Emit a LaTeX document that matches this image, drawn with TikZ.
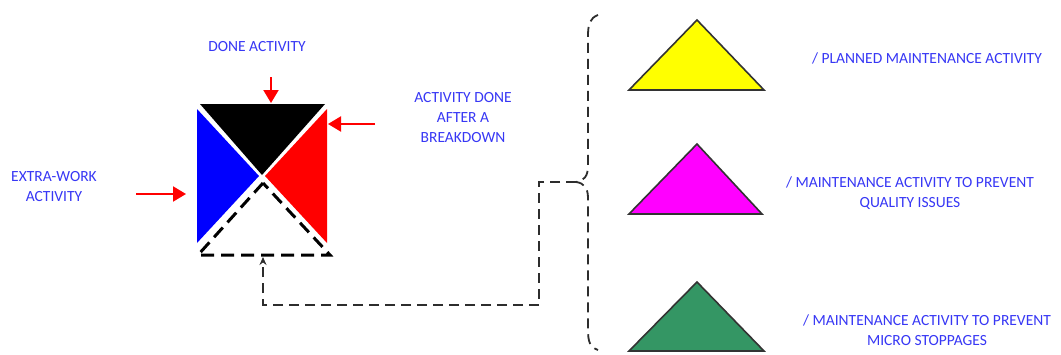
\documentclass[tikz,border=0pt]{standalone}
\usepackage{fontspec}
\setmainfont{Carlito}
\usetikzlibrary{arrows.meta}
\definecolor{txtblue}{RGB}{55,55,245}
\definecolor{tgreen}{RGB}{52,150,100}
\definecolor{tmagenta}{RGB}{255,0,255}
\definecolor{tyellow}{RGB}{255,255,0}
\definecolor{tblue}{RGB}{0,0,255}
\definecolor{tred}{RGB}{255,0,0}
\definecolor{conngray}{RGB}{45,45,45}
\tikzset{
  lbl/.style={text=txtblue, font=\fontsize{15.5}{20}\selectfont, align=center, inner sep=0pt},
  redarrow/.style={draw=tred, line width=2pt, -{Triangle[length=13pt,width=15pt]}},
  conn/.style={draw=conngray, line width=2pt, dash pattern=on 10pt off 6pt},
  sqdash/.style={draw=black, line width=3pt, dash pattern=on 13pt off 7pt},
  tri/.style={draw=black!80, line width=1.6pt, line join=miter}
}
\begin{document}
\begin{tikzpicture}[x=1pt,y=-1pt]
\useasboundingbox (0,0) rectangle (1061,354);
\fill[white] (0,0) rectangle (1061,354);

% square of four triangles
\fill[black] (200,104) -- (325,104) -- (262,175) -- cycle;
\fill[tblue] (197,109) -- (197,243) -- (259,176) -- cycle;
\fill[tred]  (327,109) -- (327,243) -- (265,176) -- cycle;
\draw[sqdash] (263,183) -- (198,255) -- (330,255) -- cycle;

% coordinates for connectors
\coordinate (topT) at (271,77);
\coordinate (topH) at (271,103);
\coordinate (rgtT) at (375,124);
\coordinate (rgtH) at (328,124);
\coordinate (lftT) at (136,194);
\coordinate (lftH) at (186,194);
\coordinate (sqbottom) at (263,257);
\coordinate (bracetip) at (576,182);
\coordinate (bend1) at (539,182);
\coordinate (bend2) at (263,305);

% labels
\node[lbl] (done) at (257,47) {DONE ACTIVITY};
\node[lbl] (after) at (463,118) {ACTIVITY DONE\\AFTER A\\BREAKDOWN};
\node[lbl] (extra) at (54,187) {EXTRA-WORK\\ACTIVITY};

% red arrows
\draw[redarrow] (topT) -- (topH);
\draw[redarrow] (rgtT) -- (rgtH);
\draw[redarrow] (lftT) -- (lftH);

% dashed connector from brace to square
\draw[conn, -{Stealth[length=8pt,width=7pt]}] (bracetip) -- (bend1) |- (bend2) -- (sqbottom);

% dashed brace
\draw[conn, line width=1.8pt] (598,15) .. controls (590,18) and (588,24) .. (588,36)
  -- (588,166) .. controls (588,176) and (584,181) .. (bracetip)
  .. controls (584,183) and (588,188) .. (588,198)
  -- (588,330) .. controls (588,342) and (590,347) .. (598,350);

% triangles
\draw[tri, fill=tyellow] (629,90) -- (697,20) -- (764,90) -- cycle;
\draw[tri, fill=tmagenta] (629,214) -- (697,144) -- (762,214) -- cycle;
\draw[tri, fill=tgreen] (629,351) -- (697,282) -- (764,351) -- cycle;

\node[lbl] (t1) at (927,58) {/ PLANNED MAINTENANCE ACTIVITY};
\node[lbl] (t2) at (910,193) {/ MAINTENANCE ACTIVITY TO PREVENT\\QUALITY ISSUES};
\node[lbl] (t3) at (927,330) {/ MAINTENANCE ACTIVITY TO PREVENT\\MICRO STOPPAGES};
\end{tikzpicture}
\end{document}
